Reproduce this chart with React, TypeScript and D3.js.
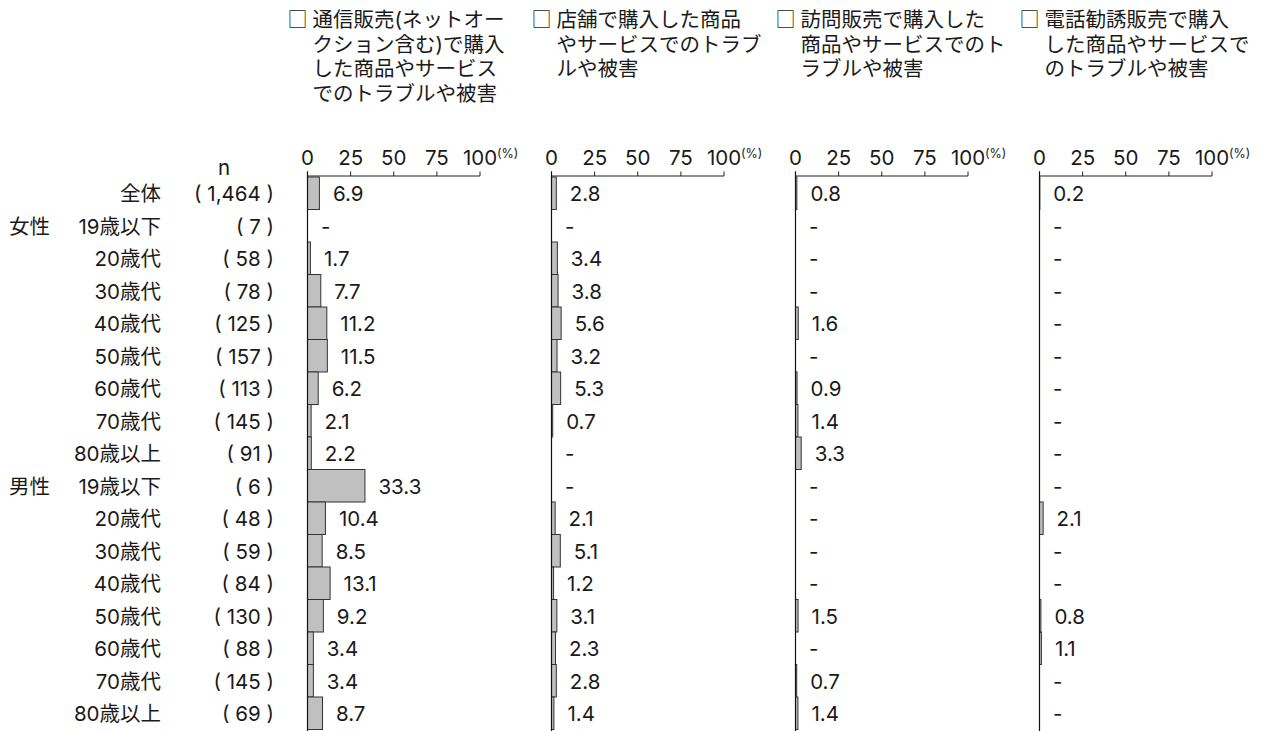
import React from "react";
import * as d3 from "d3";

const rowLabels = ["全体", "19歳以下", "20歳代", "30歳代", "40歳代", "50歳代", "60歳代", "70歳代", "80歳以上", "19歳以下", "20歳代", "30歳代", "40歳代", "50歳代", "60歳代", "70歳代", "80歳以上"];
const groupLabels: { row: number; label: string }[] = [
  { row: 1, label: "女性" },
  { row: 9, label: "男性" },
];
const nValues = ["1,464", "7", "58", "78", "125", "157", "113", "145", "91", "6", "48", "59", "84", "130", "88", "145", "69"];

const seriesTitles = [
  ["通信販売(ネットオー", "クション含む)で購入", "した商品やサービス", "でのトラブルや被害"],
  ["店舗で購入した商品", "やサービスでのトラブ", "ルや被害"],
  ["訪問販売で購入した", "商品やサービスでのト", "ラブルや被害"],
  ["電話勧誘販売で購入", "した商品やサービスで", "のトラブルや被害"],
];

// null = "-"
const series1 = [6.9, null, 1.7, 7.7, 11.2, 11.5, 6.2, 2.1, 2.2, 33.3, 10.4, 8.5, 13.1, 9.2, 3.4, 3.4, 8.7];
const series2 = [2.8, null, 3.4, 3.8, 5.6, 3.2, 5.3, 0.7, null, null, 2.1, 5.1, 1.2, 3.1, 2.3, 2.8, 1.4];
const series3 = [0.8, null, null, null, 1.6, null, 0.9, 1.4, 3.3, null, null, null, null, 1.5, null, 0.7, 1.4];
const series4 = [0.2, null, null, null, null, null, null, null, null, null, 2.1, null, null, 0.8, 1.1, null, null];
const allSeries = [series1, series2, series3, series4];

const tickValues = [0, 25, 50, 75, 100];

const FONT = "Inter, 'Noto Sans CJK JP', sans-serif";
const CJK = "'Noto Sans CJK JP', sans-serif";
const TEXT = "#1a1a1a";

export default function App() {
  const W = 1263;
  const H = 731;
  const panelX0 = d3.scaleLinear().domain([0, 3]).range([307.5, 1039.5]);
  const panelWidth = 172.5;
  const axisY = 176;
  const y = d3
    .scaleBand<number>()
    .domain(d3.range(rowLabels.length))
    .range([177, 177 + 32.5 * rowLabels.length])
    .paddingInner(0)
    .paddingOuter(0);
  const fs = 20.5;
  const base = 8; // baseline offset from row centre

  return (
    <svg
      width={W}
      height={H}
      style={{ position: "absolute", left: 0, top: 0, background: "#fff" }}
      fontFamily={FONT}
    >
      {/* row labels */}
      <text x={224} y={175} textAnchor="middle" fontSize={fs} fill={TEXT}>n</text>
      {rowLabels.map((lab, i) => {
        const cy = (y(i) as number) + y.bandwidth() / 2;
        return (
          <g key={"r" + i}>
            <text x={161} y={cy + base} textAnchor="end" fontSize={fs} fill={TEXT}>{lab}</text>
            <text x={274} y={cy + base} textAnchor="end" fontSize={fs} fill={TEXT}>{"( " + nValues[i] + " )"}</text>
          </g>
        );
      })}
      {groupLabels.map((g) => {
        const cy = (y(g.row) as number) + y.bandwidth() / 2;
        return (
          <text key={g.label} x={9} y={cy + base} fontSize={fs} fill={TEXT}>{g.label}</text>
        );
      })}

      {allSeries.map((vals, p) => {
        const x0 = panelX0(p);
        const x = d3.scaleLinear().domain([0, 100]).range([x0, x0 + panelWidth]);
        return (
          <g key={"p" + p}>
            {/* header */}
            <text x={x0 - 20} y={27} fontSize={20} fill={TEXT} fontFamily={CJK}>□</text>
            {seriesTitles[p].map((line, li) => (
              <text key={li} x={x0 + 5} y={27 + li * 24.5} fontSize={fs} fill={TEXT}>{line}</text>
            ))}
            {/* ticks */}
            {tickValues.map((t) => (
              <g key={t}>
                <line x1={x(t)} x2={x(t)} y1={axisY} y2={axisY - 4.5} stroke="#222" strokeWidth={1} />
                <text x={x(t)} y={165} textAnchor="middle" fontSize={fs} fill={TEXT}>{t}</text>
              </g>
            ))}
            <text x={x(100) + 17} y={158} fontSize={12.5} fill={TEXT}>(%)</text>
            <line x1={x(0)} x2={x(100)} y1={axisY} y2={axisY} stroke="#222" strokeWidth={1} />
            {/* bars */}
            {vals.map((v, i) => {
              const top = y(i) as number;
              const cy = top + y.bandwidth() / 2;
              return (
                <g key={"b" + i}>
                  {v !== null && (
                    <rect
                      x={x(0)}
                      y={top}
                      width={x(v) - x(0)}
                      height={y.bandwidth()}
                      fill="#c0c0c0"
                      stroke="#333"
                      strokeWidth={1}
                    />
                  )}
                  <text x={x(v ?? 0) + 13.5} y={cy + base} fontSize={fs} fill={TEXT}>
                    {v === null ? "-" : v.toFixed(1)}
                  </text>
                </g>
              );
            })}
            <line x1={x(0)} x2={x(0)} y1={axisY - 4.5} y2={H} stroke="#111" strokeWidth={1.2} />
          </g>
        );
      })}
    </svg>
  );
}
